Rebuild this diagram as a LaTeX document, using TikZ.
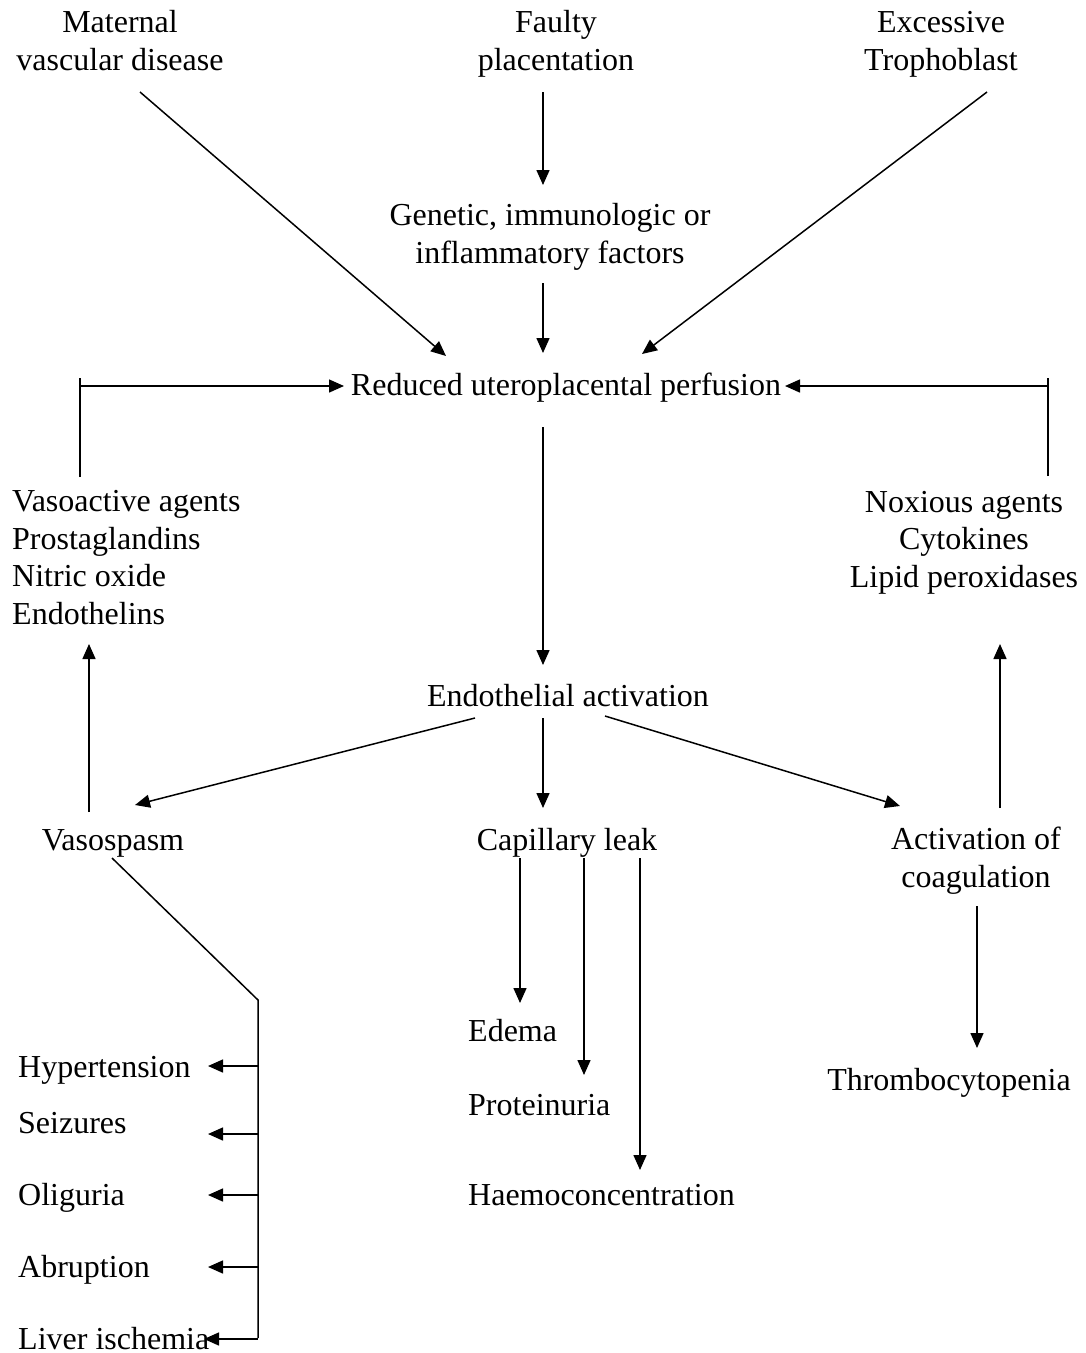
\documentclass[tikz,border=0pt]{standalone}
\usepackage{fontspec}
\setmainfont{Liberation Serif}
\usetikzlibrary{arrows.meta,calc}
\begin{document}
\begin{tikzpicture}[x=1pt,y=-1pt,
  txt/.style={inner sep=0pt,font=\fontsize{32}{37.5}\selectfont},
  arr/.style={line width=1.5pt,-{Triangle[length=15pt,width=13pt]}},
  ln/.style={line width=1.5pt}]
\useasboundingbox (0,0) rectangle (1086,1353);
% nodes (multi-line nodes are placed by the baseline of their last line)
\node[txt,anchor=base,align=center] (mat) at (120,70) {Maternal\\vascular disease};
\node[txt,anchor=base,align=center] (faulty) at (556,70) {Faulty\\placentation};
\node[txt,anchor=base,align=center] (exc) at (941,70) {Excessive\\Trophoblast};
\node[txt,anchor=base,align=center] (gen) at (550,263) {Genetic, immunologic or\\inflammatory factors};
\node[txt,anchor=base] (red) at (566,395) {Reduced uteroplacental perfusion};
\node[txt,anchor=base west,align=left] (vaso) at (12,624) {Vasoactive agents\\Prostaglandins\\Nitric oxide\\Endothelins};
\node[txt,anchor=base,align=center] (nox) at (964,587) {Noxious agents\\Cytokines\\Lipid peroxidases};
\node[txt,anchor=base] (endo) at (568,706) {Endothelial activation};
\node[txt,anchor=base] (vsp) at (113,850) {Vasospasm};
\node[txt,anchor=base] (cap) at (567,850) {Capillary leak};
\node[txt,anchor=base,align=center] (act) at (976,887) {Activation of\\coagulation};
\node[txt,anchor=base west] (edema) at (468,1041) {Edema};
\node[txt,anchor=base west] (prot) at (468,1115) {Proteinuria};
\node[txt,anchor=base west] (haemo) at (468,1205) {Haemoconcentration};
\node[txt,anchor=base] (thromb) at (949,1090) {Thrombocytopenia};
\node[txt,anchor=base west] (hyp) at (18,1077) {Hypertension};
\node[txt,anchor=base west] (seiz) at (18,1133) {Seizures};
\node[txt,anchor=base west] (olig) at (18,1205) {Oliguria};
\node[txt,anchor=base west] (abr) at (18,1277) {Abruption};
\node[txt,anchor=base west] (liver) at (18,1349) {Liver ischemia};
% connectors
\draw[arr] ($(mat.base)+(20,22)$) -- ($(red.base)+(-120,-39)$);
\draw[arr] ($(faulty.base)+(-13,22)$) -- ($(gen.base)+(-7,-78)$);
\draw[arr] ($(gen.base)+(-7,20)$) -- ($(red.base)+(-23,-42)$);
\draw[arr] ($(exc.base)+(46,22)$) -- ($(red.base)+(76,-41)$);
% left feedback bar
\draw[ln] ($(vaso.base west)+(68,-147)$) -- ($(vaso.base west)+(68,-246)$);
\draw[arr] ($(vaso.base west)+(68,-238)$) -- ($(red.base)+(-222,-9)$);
% right feedback bar
\draw[ln] ($(nox.base)+(84,-111)$) -- ($(nox.base)+(84,-209)$);
\draw[arr] ($(nox.base)+(84,-201)$) -- ($(red.base)+(219,-9)$);
% main chain
\draw[arr] ($(red.base)+(-23,32)$) -- ($(endo.base)+(-25,-41)$);
\draw[arr] ($(endo.base)+(-93,12)$) -- ($(vsp.base)+(22,-45)$);
\draw[arr] ($(endo.base)+(-25,12)$) -- ($(cap.base)+(-24,-42)$);
\draw[arr] ($(endo.base)+(37,10)$) -- ($(act.base)+(-76,-81)$);
\draw[arr] ($(vsp.base)+(-24,-38)$) -- ($(vaso.base west)+(77,20)$);
\draw[arr] ($(act.base)+(24,-79)$) -- ($(nox.base)+(36,57)$);
% vasospasm branch
\coordinate (j1) at ($(vsp.base)+(145,150)$);
\coordinate (j2) at ($(vsp.base)+(145,489)$);
\draw[ln] ($(vsp.base)+(-1,8)$) -- (j1) -- ([yshift=1pt]j2);
\draw[arr] ($(hyp.base west)+(240,-11)$) -- ($(hyp.base west)+(190,-11)$);
\draw[arr] ($(seiz.base west)+(240,1)$) -- ($(seiz.base west)+(190,1)$);
\draw[arr] ($(olig.base west)+(240,-10)$) -- ($(olig.base west)+(190,-10)$);
\draw[arr] ($(abr.base west)+(240,-10)$) -- ($(abr.base west)+(190,-10)$);
\draw[arr] (j2) -- ($(liver.base west)+(186,-10)$);
% capillary leak
\draw[arr] ($(cap.base)+(-47,8)$) -- ($(edema.base west)+(52,-38)$);
\draw[arr] ($(cap.base)+(17,8)$) -- ($(prot.base west)+(116,-40)$);
\draw[arr] ($(cap.base)+(73,8)$) -- ($(haemo.base west)+(172,-35)$);
% coagulation
\draw[arr] ($(act.base)+(1,19)$) -- ($(thromb.base)+(28,-42)$);
\end{tikzpicture}
\end{document}
